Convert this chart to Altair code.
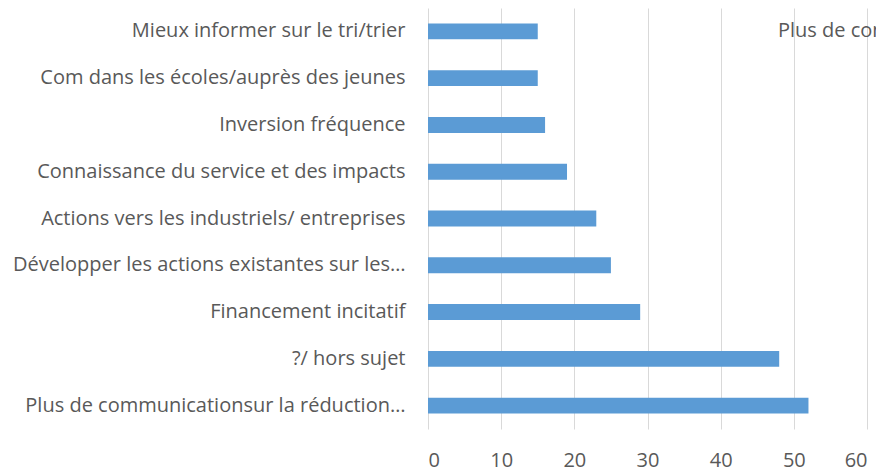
import altair as alt
import pandas as pd

categories = [
    "Mieux informer sur le tri/trier",
    "Com dans les écoles/auprès des jeunes",
    "Inversion fréquence",
    "Connaissance du service et des impacts",
    "Actions vers les industriels/ entreprises",
    "Développer les actions existantes sur les…",
    "Financement incitatif",
    "?/ hors sujet",
    "Plus de communicationsur la réduction…",
]
values = [15, 15, 16, 19, 23, 25, 29, 48, 52]
x_ticks = [0, 10, 20, 30, 40, 50, 60]
annotation = ["Plus de communicationsur la réduction des déchets"]

df = pd.DataFrame({"cat": categories, "val": values})
FONT = "Open Sans"
GRAY = "#595959"

bars = alt.Chart(df).mark_bar(color="#5B9BD5").encode(
    x=alt.X("val:Q", scale=alt.Scale(domain=[0, 60], nice=False),
            axis=alt.Axis(values=x_ticks, title=None, grid=True, gridColor="#D9D9D9",
                          domain=False, ticks=False, labelFontSize=20, labelColor=GRAY,
                          labelFont=FONT, labelPadding=21)),
    y=alt.Y("cat:N", sort=categories,
            scale=alt.Scale(paddingInner=0.66, paddingOuter=0.33),
            axis=alt.Axis(title=None, domain=False, ticks=False, labelFontSize=20,
                          labelColor=GRAY, labelFont=FONT, labelPadding=23, labelLimit=600)),
)

ann = alt.Chart(pd.DataFrame({"t": annotation})).mark_text(
    align="left", baseline="middle", font=FONT, fontSize=20, color=GRAY
).encode(text="t:N", x=alt.value(350), y=alt.value(23))

chart = alt.layer(bars, ann).properties(
    width=439, height=421,
    autosize=alt.AutoSizeParams(type="none"),
    padding={"left": 420, "top": 0, "right": 9, "bottom": 43},
).configure_view(stroke=None)

chart.save("out.html", embed_options={"renderer": "svg", "actions": False})
